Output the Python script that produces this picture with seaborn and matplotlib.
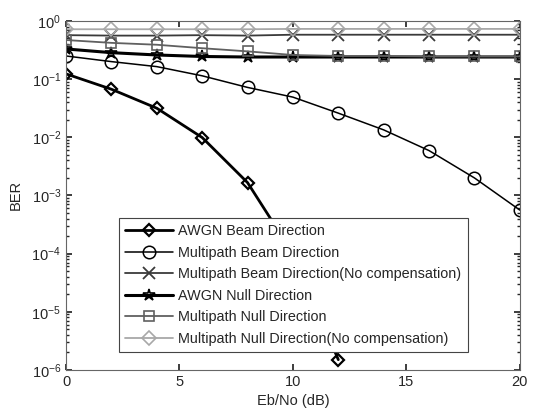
import matplotlib
matplotlib.use("Agg")
import matplotlib.pyplot as plt
import numpy as np
import seaborn as sns

# Eb/No axis (dB)
ebno = [0, 2, 4, 6, 8, 10, 12, 14, 16, 18, 20]

# BER curves (nan = off the log scale)
awgn_beam = [0.123, 0.067, 0.0316, 0.0099, 0.00166, 1.0e-4, 1.5e-6,
             np.nan, np.nan, np.nan, np.nan]
multipath_beam = [0.25, 0.20, 0.164, 0.114, 0.072, 0.049, 0.026,
                  0.0134, 0.0059, 0.0020, 5.6e-4]
multipath_beam_nc = [0.57, 0.56, 0.56, 0.57, 0.56, 0.58, 0.58,
                     0.58, 0.58, 0.58, 0.58]
awgn_null = [0.33, 0.285, 0.26, 0.245, 0.24, 0.24, 0.24,
             0.24, 0.24, 0.24, 0.24]
multipath_null = [0.47, 0.42, 0.39, 0.34, 0.30, 0.26, 0.25,
                  0.25, 0.245, 0.245, 0.245]
multipath_null_nc = [0.72, 0.72, 0.72, 0.72, 0.72, 0.73, 0.73,
                     0.73, 0.73, 0.73, 0.73]

labels = ['AWGN Beam Direction',
          'Multipath Beam Direction',
          'Multipath Beam Direction(No compensation)',
          'AWGN Null Direction',
          'Multipath Null Direction',
          'Multipath Null Direction(No compensation)']

sns.set_theme(style='ticks')
plt.rcParams['font.family'] = ['Liberation Sans', 'DejaVu Sans']
plt.rcParams['mathtext.fontset'] = 'custom'
plt.rcParams['mathtext.rm'] = 'Liberation Sans'
plt.rcParams['mathtext.it'] = 'Liberation Sans'

fig = plt.figure(figsize=(5.37, 4.11), dpi=100)
ax = fig.add_axes([0.123, 0.10, 0.845, 0.849])

series = [awgn_beam, multipath_beam, multipath_beam_nc,
          awgn_null, multipath_null, multipath_null_nc]
styles = [
    dict(color='black', lw=2.0, marker='D', ms=6, mew=1.6),
    dict(color='black', lw=1.1, marker='o', ms=9, mew=1.1),
    dict(color='#3a3a3a', lw=1.3, marker='x', ms=8, mew=1.3),
    dict(color='black', lw=2.2, marker='*', ms=9, mew=1.2),
    dict(color='#606060', lw=1.3, marker='s', ms=7, mew=1.2),
    dict(color='#a8a8a8', lw=1.3, marker='D', ms=7, mew=1.2),
]

for vals, lab, st in zip(series, labels, styles):
    sns.lineplot(x=ebno, y=vals, ax=ax, label=lab, sort=False,
                 estimator=None, color=st['color'], linewidth=st['lw'],
                 marker=st['marker'], markersize=st['ms'],
                 markeredgewidth=st['mew'], markeredgecolor=st['color'],
                 markerfacecolor='none')

ax.set_yscale('log')
ax.set_xlim(0, 20)
ax.set_ylim(1e-6, 1)
ax.set_xticks([0, 5, 10, 15, 20])
ax.set_yticks([1e-6, 1e-5, 1e-4, 1e-3, 1e-2, 1e-1, 1])
ax.tick_params(which='both', direction='in', top=True, right=True,
               labelsize=10.5)
ax.tick_params(which='minor', length=2)
ax.tick_params(which='major', length=4)
for sp in ax.spines.values():
    sp.set_linewidth(0.8)
    sp.set_color('#666666')

ax.set_xlabel('Eb/No (dB)', fontsize=10.5, labelpad=4)
ax.set_ylabel('BER', fontsize=10.5, labelpad=6)

leg = ax.legend(loc='upper left', bbox_to_anchor=(0.116, 0.436),
                fontsize=10.4, frameon=True, fancybox=False,
                edgecolor='#444444', framealpha=1, labelspacing=0.52,
                handlelength=3.3, handletextpad=0.35, borderpad=0.45,
                borderaxespad=0)
leg.get_frame().set_linewidth(0.8)

fig.savefig('out.png', dpi=100)
